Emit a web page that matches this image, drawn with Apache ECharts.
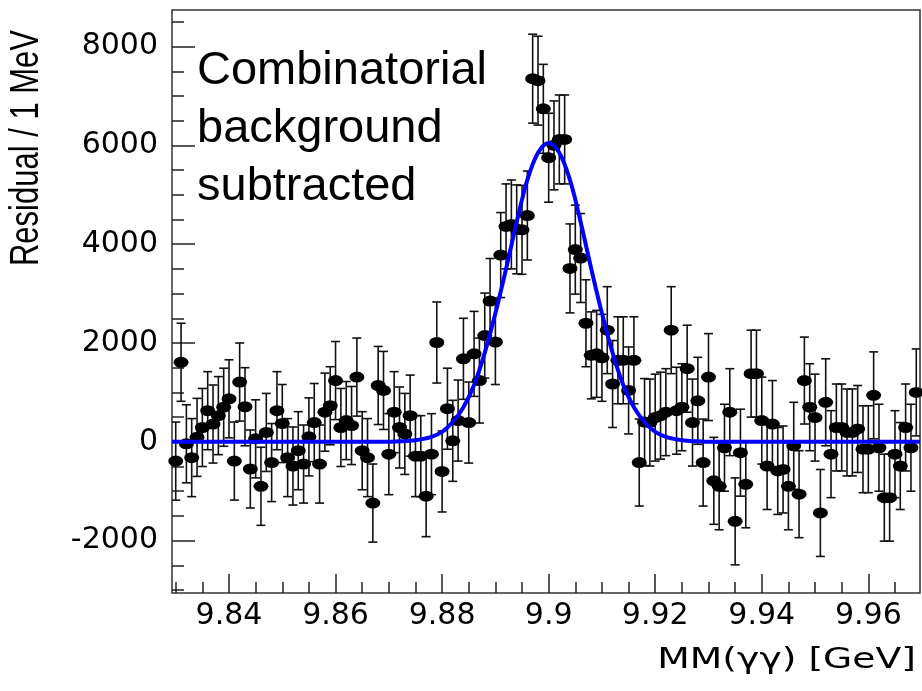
<!DOCTYPE html>
<html>
<head>
<meta charset="utf-8">
<script src="https://cdn.jsdelivr.net/npm/echarts@6/dist/echarts.min.js"></script>
<style>
html, body { margin: 0; padding: 0; background: #fff; }
#chart { width: 922px; height: 691px; }
</style>
</head>
<body>
<div id="chart"></div>
<script>
// histogram: 1 MeV bins, first bin centre at 9.830 GeV
const binStart = 9.830
const binWidth = 0.001

// residual per bin (background subtracted)
const residual = [
  -390, 1610, -40, -320, 90, 290, 630, 360, 530, 700,
  870, -390, 1210, 710, -550, 60, -900, 190, -420, 630,
  370, -320, -490, -180, -450, 100, 390, -450, 600, 730,
  1240, 290, 430, 330, 1310, -180, -320, -1240, 1140, 1040,
  -250, 600, 290, 160, 530, -290, -290, -1100, -250, 2010,
  -600, 670, 20, 430, 1680, 390, 1780, 1240, 2150, 2850,
  2020, 3780, 4360, 4400, 4300, 4290, 4580, 7350, 7310, 6740,
  5750, 6000, 6120, 6120, 3510, 3890, 3720, 2400, 1750, 1780,
  1700, 2260, 1170, 1650, 1650, 1040, 1650, -420, 400, 390,
  490, 530, 600, 2260, 630, 700, 1480, 390, 830, -420,
  1310, -790, -900, -120, 600, -1610, -220, -860, 1380, 1380,
  430, -490, 360, -590, -560, -900, -80, -1060, 1240, 700,
  490, -1440, 800, -250, 290, 290, 190, 190, 260, -150,
  -150, 940, -120, -1130, -1130, -250, -490, 290, -120, 1000
]

// half length of the error bars
const residualErr = [
  790, 790, 790, 790, 790, 790, 790, 790, 790, 790,
  790, 790, 790, 790, 790, 790, 790, 790, 790, 790,
  790, 790, 790, 790, 790, 790, 790, 790, 790, 790,
  790, 790, 790, 790, 790, 790, 790, 790, 790, 790,
  820, 820, 820, 820, 820, 820, 820, 820, 820, 820,
  820, 820, 820, 820, 820, 820, 860, 860, 860, 860,
  860, 860, 860, 900, 900, 900, 900, 900, 900, 900,
  900, 900, 900, 900, 900, 900, 900, 880, 880, 880,
  880, 880, 880, 880, 880, 880, 880, 880, 880, 880,
  880, 880, 880, 880, 880, 880, 880, 880, 880, 880,
  880, 880, 880, 880, 880, 880, 880, 880, 880, 880,
  880, 880, 880, 880, 880, 880, 880, 880, 880, 880,
  880, 880, 880, 880, 880, 880, 880, 880, 880, 880,
  880, 880, 880, 880, 880, 880, 880, 880, 880, 880
]

// blue fit curve, read at sample points
const fitX = [9.8293, 9.870, 9.872, 9.874, 9.876, 9.878, 9.880, 9.882, 9.884, 9.886, 9.888,
  9.890, 9.892, 9.894, 9.896, 9.898, 9.900, 9.902, 9.904, 9.906, 9.908, 9.910,
  9.912, 9.914, 9.916, 9.918, 9.920, 9.922, 9.924, 9.926, 9.928, 9.930, 9.9697]
const fitY = [0, 0, 10, 20, 50, 100, 200, 400, 700, 1150, 1800,
  2600, 3500, 4450, 5300, 5850, 6050, 5850, 5300, 4450, 3500, 2600,
  1800, 1150, 700, 400, 200, 100, 50, 20, 10, 0, 0]

// axis ticks
const xMajorTicks = [9.84, 9.86, 9.88, 9.9, 9.92, 9.94, 9.96]
const xMinorTicks = [9.83, 9.835, 9.845, 9.85, 9.855, 9.865, 9.87, 9.875, 9.885, 9.89, 9.895,
  9.905, 9.91, 9.915, 9.925, 9.93, 9.935, 9.945, 9.95, 9.955, 9.965]
const yMajorTicks = [-2000, 0, 2000, 4000, 6000, 8000]
const yMinorTicks = [-3000, -2500, -1500, -1000, -500, 500, 1000, 1500, 2500, 3000, 3500,
  4500, 5000, 5500, 6500, 7000, 7500, 8500]

const xMin = 9.8293
const xMax = 9.9697
const yMin = -3060
const yMax = 8740

const chart = echarts.init(document.getElementById('chart'))

const points = residual.map((v, i) => [+(binStart + i * binWidth).toFixed(4), v])
const bars = residual.map((v, i) => [points[i][0], v - residualErr[i], v + residualErr[i]])
const fitLine = fitX.map((x, i) => [x, fitY[i]])

const tickFont = { fontFamily: 'DejaVu Sans', fontSize: 30, color: '#000' }
const tickLine = { color: '#222', width: 1.5 }

const renderErrorBar = (params, api) => {
  const x = api.value(0)
  const lo = api.coord([x, api.value(1)])
  const hi = api.coord([x, api.value(2)])
  const cap = 4.5
  const style = { stroke: '#111', lineWidth: 1.6 }
  return {
    type: 'group',
    children: [
      { type: 'line', shape: { x1: hi[0], y1: hi[1], x2: lo[0], y2: lo[1] }, style },
      { type: 'line', shape: { x1: hi[0] - cap, y1: hi[1], x2: hi[0] + cap, y2: hi[1] }, style },
      { type: 'line', shape: { x1: lo[0] - cap, y1: lo[1], x2: lo[0] + cap, y2: lo[1] }, style }
    ]
  }
}

const option = {
  animation: false,
  backgroundColor: '#fff',
  grid: {
    left: 172, top: 10, right: 2, bottom: 98,
    show: true, borderColor: '#333', borderWidth: 1.5,
    containLabel: false, outerBoundsMode: 'none'
  },
  xAxis: [
    {
      type: 'value', min: xMin, max: xMax,
      axisLine: { show: false, onZero: false },
      splitLine: { show: false },
      axisTick: { inside: true, length: 19, customValues: xMajorTicks, lineStyle: tickLine },
      axisLabel: {
        ...tickFont, margin: 8, customValues: xMajorTicks,
        formatter: v => String(+(+v).toFixed(2))
      }
    },
    {
      type: 'value', min: xMin, max: xMax, position: 'bottom',
      axisLine: { show: false, onZero: false },
      splitLine: { show: false },
      axisTick: { inside: true, length: 11, customValues: xMinorTicks, lineStyle: tickLine },
      axisLabel: { show: false }
    }
  ],
  yAxis: [
    {
      type: 'value', min: yMin, max: yMax,
      axisLine: { show: false, onZero: false },
      splitLine: { show: false },
      axisTick: { inside: true, length: 23, customValues: yMajorTicks, lineStyle: tickLine },
      axisLabel: { ...tickFont, margin: 14, customValues: yMajorTicks, formatter: v => String(v) }
    },
    {
      type: 'value', min: yMin, max: yMax, position: 'left',
      axisLine: { show: false, onZero: false },
      splitLine: { show: false },
      axisTick: { inside: true, length: 12, customValues: yMinorTicks, lineStyle: tickLine },
      axisLabel: { show: false }
    }
  ],
  graphic: [
    {
      type: 'text', left: 197, top: 42,
      style: {
        text: 'Combinatorial\nbackground\nsubtracted',
        fontFamily: 'Liberation Sans', fontSize: 47, lineHeight: 58, fill: '#000'
      }
    },
    {
      // y title, slightly widened like the original plot
      type: 'text', x: 27, y: 30, rotation: Math.PI / 2, scaleY: 1.3,
      style: {
        text: 'Residual / 1 MeV', align: 'right', verticalAlign: 'middle',
        fontFamily: 'Liberation Sans', fontSize: 31, fill: '#000'
      }
    },
    {
      type: 'text', x: 916, y: 660, scaleX: 1.3,
      style: {
        text: 'MM(γγ) [GeV]', align: 'right', verticalAlign: 'middle',
        fontFamily: 'DejaVu Sans', fontSize: 29, fill: '#000'
      }
    }
  ],
  series: [
    {
      name: 'errors', type: 'custom', renderItem: renderErrorBar,
      data: bars, encode: { x: 0, y: [1, 2] }, z: 2, clip: true
    },
    {
      name: 'residual', type: 'scatter', data: points,
      symbol: 'circle', symbolSize: [15, 11],
      itemStyle: { color: '#000', opacity: 1 }, z: 3
    },
    {
      name: 'fit', type: 'line', data: fitLine,
      showSymbol: false, smooth: 0.35,
      lineStyle: { color: '#0000ff', width: 4 }, z: 5
    }
  ]
}

chart.setOption(option)
</script>
</body>
</html>
